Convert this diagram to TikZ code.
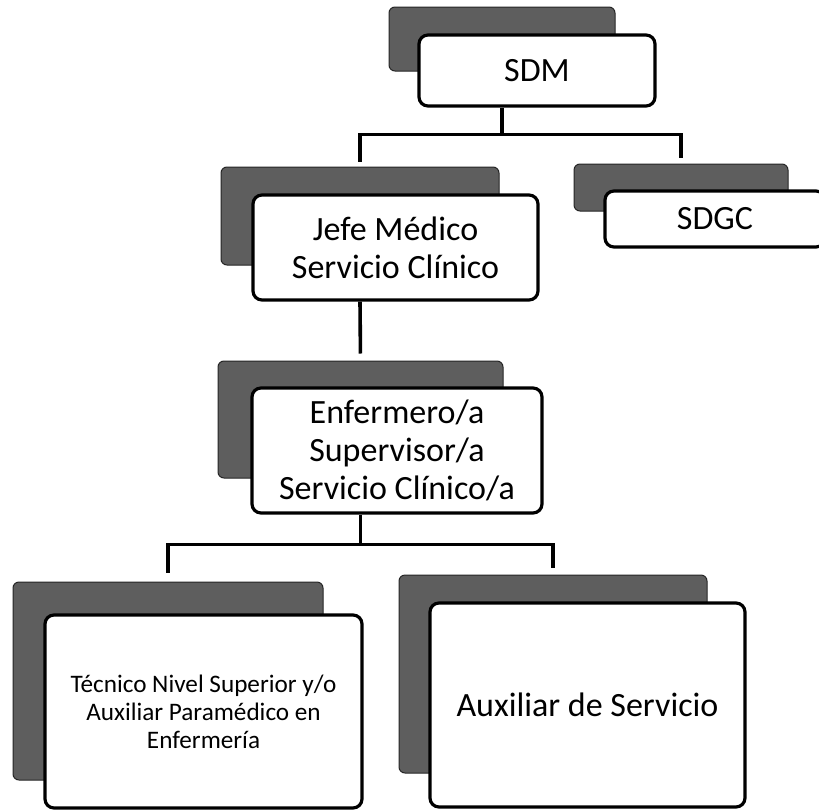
\documentclass[tikz,border=0pt]{standalone}
\usepackage{fontspec}
\setmainfont{Carlito}
\usetikzlibrary{positioning}

\definecolor{shadegray}{gray}{0.37}
\newcommand{\cardfont}{\fontsize{34}{38}\selectfont}
\newcommand{\smallcardfont}{\fontsize{25.2}{28}\selectfont}

\tikzset{
  back/.style={draw=black!85, fill=shadegray, line width=1pt, rounded corners=6pt, inner sep=0pt},
  card/.style={draw=black, fill=white, line width=3.2pt, rounded corners=9pt, align=center, inner sep=0pt, font=\cardfont},
  link/.style={line width=3.6pt},
}

\begin{document}
\begin{tikzpicture}[x=1pt,y=-1pt]
\useasboundingbox (0,0) rectangle (819,811);

% Top level
\node[back, minimum width=226pt, minimum height=64pt] (sdmback) at (502,39) {};
\node[card, minimum width=236pt, minimum height=71pt] (sdm) at (537,70.5) {SDM};

% Second level
\node[back, minimum width=278pt, minimum height=98pt] (jefeback) at (360,216) {};
\node[card, minimum width=285pt, minimum height=105pt] (jefe) at (395.5,247.5) {Jefe Médico\\Servicio Clínico};

\node[back, minimum width=214pt, minimum height=47pt] (sdgcback) at (681,187.5) {};
\node[card, minimum width=220pt, minimum height=56pt] (sdgc) at (715,219) {SDGC};

% Third level
\node[back, minimum width=285pt, minimum height=117pt] (enfback) at (360.5,419.5) {};
\node[card, minimum width=290pt, minimum height=125pt] (enf) at (397,450.5) {Enfermero/a\\Supervisor/a\\Servicio Clínico/a};

% Bottom level
\node[back, minimum width=310pt, minimum height=198pt] (tensback) at (168,681) {};
\node[card, minimum width=317pt, minimum height=193pt, font=\smallcardfont] (tens) at (203.5,711.5) {Técnico Nivel Superior y/o\\Auxiliar Paramédico en\\Enfermería};

\node[back, minimum width=308pt, minimum height=198pt] (auxback) at (553,674) {};
\node[card, minimum width=315pt, minimum height=204pt] (aux) at (587.5,705) {Auxiliar de Servicio};

% Connectors
\draw[link] (sdmback |- sdm.south) -- ++(0,27) coordinate (sdmbus);
\draw[link, shorten >=5pt] (sdmbus) -| (jefeback.north);
\draw[link, shorten >=6pt] (sdmbus) -| (sdgcback.north);

\draw[link, shorten >=7pt] (jefeback |- jefe.south) -- (enfback.north);

\draw[link] (enfback |- enf.south) -- ++(0,30) coordinate (enfbus);
\draw[link, shorten >=9pt] (enfbus) -| (tensback.north);
\draw[link, shorten >=7pt] (enfbus) -| (auxback.north);
\end{tikzpicture}
\end{document}
